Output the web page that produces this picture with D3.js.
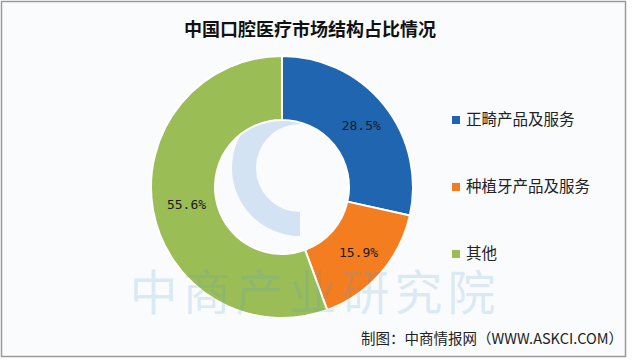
<!DOCTYPE html>
<html>
<head>
<meta charset="utf-8">
<script src="https://cdn.jsdelivr.net/npm/d3@7"></script>
<style>
  html, body { margin: 0; padding: 0; background: #ffffff; }
  svg { display: block; }
</style>
</head>
<body>
<svg id="chart" width="640" height="360"></svg>
<script>
const categories = ['正畸产品及服务', '种植牙产品及服务', '其他'];
const shares = [28.5, 15.9, 55.6];
const colors = ['#1f65b0', '#f47d1f', '#9bbd55'];
const title = '中国口腔医疗市场结构占比情况';
const source = '制图：中商情报网（WWW.ASKCI.COM）';
const watermark = '中商产业研究院';

const svg = d3.select('#chart');
const cx = 282, cy = 187;
const outerR = 131, innerR = 67;

// background + frame
svg.append('rect')
  .attr('x', 1.5).attr('y', 1.5)
  .attr('width', 624).attr('height', 355)
  .attr('fill', '#f9fbfd')
  .attr('stroke', '#9a9a9a')
  .attr('stroke-width', 1.5);

// faint logo behind the donut (the "C" crescent seen in the hole)
svg.append('path')
  .attr('transform', 'translate(300,168)')
  .attr('d', d3.arc().innerRadius(44).outerRadius(68).startAngle(Math.PI).endAngle(2 * Math.PI)())
  .attr('fill', '#c9ddf0')
  .attr('fill-opacity', 0.8);

svg.append('text')
  .attr('x', 310).attr('y', 36)
  .attr('text-anchor', 'middle')
  .attr('font-family', '"Noto Sans CJK SC", sans-serif')
  .attr('font-weight', 'bold')
  .attr('font-size', 18)
  .attr('fill', '#111')
  .text(title);

const pie = d3.pie().sort(null).value(d => d);
const arc = d3.arc().innerRadius(innerR).outerRadius(outerR);
const arcs = pie(shares);

const g = svg.append('g').attr('transform', `translate(${cx},${cy})`);

g.selectAll('path')
  .data(arcs)
  .join('path')
  .attr('d', arc)
  .attr('fill', (d, i) => colors[i])
  .attr('stroke', '#ffffff')
  .attr('stroke-width', 2);

// faint watermark, drawn before the labels so they stay on top
svg.append('text')
  .attr('x', 315).attr('y', 310)
  .attr('text-anchor', 'middle')
  .attr('font-family', '"Noto Sans CJK SC", sans-serif')
  .attr('font-size', 48)
  .attr('letter-spacing', 5)
  .attr('fill', '#5b9bd5')
  .attr('fill-opacity', 0.2)
  .text(watermark);

// value labels
g.selectAll('text.val')
  .data(arcs)
  .join('text')
  .attr('class', 'val')
  .attr('transform', d => {
    const [x, y] = arc.centroid(d);
    return `translate(${x + 2},${y})`;
  })
  .attr('text-anchor', 'middle')
  .attr('dy', '0.35em')
  .attr('font-family', '"DejaVu Sans Mono", monospace')
  .attr('font-size', 13)
  .attr('fill', '#1a1a1a')
  .text(d => d.data.toFixed(1) + '%');

// legend
const legendY = d3.scalePoint().domain(categories).range([120, 254]);
const legend = svg.append('g');
categories.forEach((c, i) => {
  legend.append('rect')
    .attr('x', 452).attr('y', legendY(c) - 4)
    .attr('width', 8).attr('height', 8)
    .attr('fill', colors[i]);
  legend.append('text')
    .attr('x', 466).attr('y', legendY(c))
    .attr('dy', '0.35em')
    .attr('font-family', '"Noto Sans CJK SC", sans-serif')
    .attr('font-size', 15.5)
    .attr('fill', '#222')
    .text(c);
});

svg.append('text')
  .attr('x', 623).attr('y', 344)
  .attr('text-anchor', 'end')
  .attr('font-family', '"Noto Sans CJK SC", sans-serif')
  .attr('font-size', 14.5)
  .attr('fill', '#222')
  .text(source);
</script>
</body>
</html>
